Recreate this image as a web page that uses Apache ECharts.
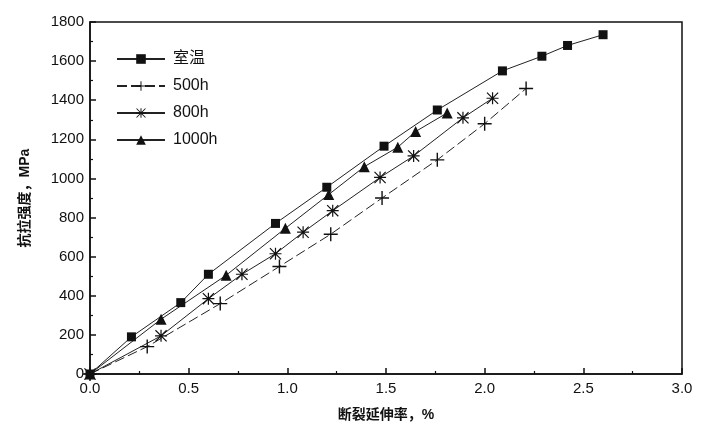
<!DOCTYPE html>
<html>
<head>
<meta charset="utf-8">
<script src="https://cdn.jsdelivr.net/npm/echarts@6/dist/echarts.min.js"></script>
<style>
  html, body { margin: 0; padding: 0; background: #fff; }
  #chart { width: 704px; height: 430px; }
</style>
</head>
<body>
<div id="chart"></div>
<script>
// 断裂延伸率 vs 抗拉强度
const seriesNames = ['室温', '500h', '800h', '1000h'];

const roomX = [0, 0.21, 0.46, 0.60, 0.94, 1.20, 1.49, 1.76, 2.09, 2.29, 2.42, 2.60];
const roomY = [0, 190, 365, 510, 770, 955, 1165, 1350, 1550, 1625, 1680, 1735];

const h500X = [0, 0.29, 0.66, 0.96, 1.22, 1.48, 1.76, 2.00, 2.21];
const h500Y = [0, 140, 360, 550, 715, 900, 1095, 1280, 1460];

const h800X = [0, 0.36, 0.60, 0.77, 0.94, 1.08, 1.23, 1.47, 1.64, 1.89, 2.04];
const h800Y = [0, 195, 385, 510, 615, 725, 835, 1005, 1115, 1310, 1410];

const h1000X = [0, 0.36, 0.69, 0.99, 1.21, 1.39, 1.56, 1.65, 1.81];
const h1000Y = [0, 280, 505, 745, 918, 1060, 1160, 1240, 1335];

const xTicks = [0, 0.5, 1.0, 1.5, 2.0, 2.5, 3.0];
const yTicks = [0, 200, 400, 600, 800, 1000, 1200, 1400, 1600, 1800];

const plusPath = 'path://M9,0 L11,0 L11,20 L9,20 Z M0,9 L20,9 L20,11 L0,11 Z';
const starPath = 'path://M9,0 L11,0 L11,20 L9,20 Z M0,9 L20,9 L20,11 L0,11 Z ' +
  'M0,1.4 L1.4,0 L20,18.6 L18.6,20 Z M18.6,0 L20,1.4 L1.4,20 L0,18.6 Z';

function pairs(xs, ys) {
  return xs.map((x, i) => [x, ys[i]]);
}

function renderChart() {
  const dom = document.getElementById('chart');
  const chart = echarts.init(dom);
  const font = '"Liberation Sans", "Noto Sans CJK SC", sans-serif';
  const lineStyle = { color: '#222', width: 1 };
  const axisCommon = {
    axisLine: { show: true, lineStyle: { color: '#111', width: 1.5 } },
    axisTick: { show: true, inside: true, length: 6, lineStyle: { color: '#111', width: 1.5 } },
    minorTick: { show: true, splitNumber: 2, length: 3, lineStyle: { color: '#111', width: 1.2 } },
    splitLine: { show: false },
    axisLabel: { color: '#111', fontFamily: font, fontSize: 15 },
    nameTextStyle: { color: '#111', fontFamily: font, fontSize: 14, fontWeight: 'bold' },
  };
  const option = {
    animation: false,
    backgroundColor: '#fff',
    grid: {
      left: 90,
      right: 22,
      top: 22,
      bottom: 56,
      show: true,
      borderColor: '#111',
      borderWidth: 1.5,
      backgroundColor: 'transparent',
    },
    legend: {
      orient: 'vertical',
      left: 111,
      top: 46,
      itemWidth: 48,
      itemHeight: 12,
      itemGap: 11,
      data: seriesNames,
      textStyle: { color: '#111', fontFamily: font, fontSize: 16, padding: [0, 0, 0, 3] },
    },
    xAxis: {
      type: 'value',
      min: 0,
      max: 3,
      interval: 0.5,
      name: '断裂延伸率，%',
      nameLocation: 'middle',
      nameGap: 34,
      ...axisCommon,
      axisLabel: {
        ...axisCommon.axisLabel,
        margin: 7,
        formatter: v => (xTicks.includes(v) ? v.toFixed(1) : ''),
      },
    },
    yAxis: {
      type: 'value',
      min: 0,
      max: 1800,
      interval: 200,
      name: '抗拉强度，MPa',
      nameLocation: 'middle',
      nameGap: 58,
      ...axisCommon,
      axisLabel: {
        ...axisCommon.axisLabel,
        margin: 6,
        formatter: v => (yTicks.includes(v) ? String(v) : ''),
      },
    },
    series: [
      {
        name: '室温',
        type: 'line',
        data: pairs(roomX, roomY),
        symbol: 'rect',
        symbolSize: 9,
        itemStyle: { color: '#111' },
        lineStyle: lineStyle,
      },
      {
        name: '500h',
        type: 'line',
        data: pairs(h500X, h500Y),
        symbol: plusPath,
        symbolSize: 14,
        itemStyle: { color: '#111' },
        lineStyle: { ...lineStyle, type: [10, 4] },
      },
      {
        name: '800h',
        type: 'line',
        data: pairs(h800X, h800Y),
        symbol: starPath,
        symbolSize: 12,
        itemStyle: { color: '#111' },
        lineStyle: lineStyle,
      },
      {
        name: '1000h',
        type: 'line',
        data: pairs(h1000X, h1000Y),
        symbol: 'triangle',
        symbolSize: 11,
        itemStyle: { color: '#111' },
        lineStyle: lineStyle,
      },
    ]
  };
  chart.setOption(option, true);
}

renderChart();
</script>
</body>
</html>
